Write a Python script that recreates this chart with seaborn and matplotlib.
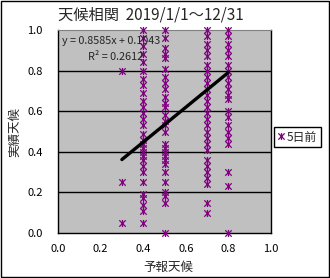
import numpy as np
import pandas as pd
import matplotlib
matplotlib.use("Agg")
import matplotlib.pyplot as plt
from matplotlib.path import Path
from matplotlib.patches import Rectangle
from matplotlib.lines import Line2D
import seaborn as sns

# ---------------------------------------------------------
# Data (forecast value -> observed values)
# ---------------------------------------------------------
y_at_03 = [0.80, 0.25, 0.05]
y_at_04 = [1.00, 0.96, 0.92, 0.88, 0.84, 0.80, 0.76, 0.73, 0.69, 0.65, 0.62,
           0.59, 0.56, 0.53, 0.49, 0.46, 0.44, 0.42, 0.40, 0.38, 0.36, 0.33,
           0.30, 0.25, 0.19, 0.17, 0.14, 0.11, 0.05]
y_at_05 = [1.00, 0.96, 0.91, 0.88, 0.86, 0.81, 0.77, 0.74, 0.71, 0.67, 0.64,
           0.62, 0.58, 0.55, 0.53, 0.50, 0.44, 0.42, 0.40, 0.38, 0.36, 0.34,
           0.30, 0.25, 0.20, 0.18, 0.15, 0.00]
y_at_07 = [1.00, 0.97, 0.93, 0.90, 0.87, 0.83, 0.80, 0.77, 0.74, 0.71, 0.68,
           0.65, 0.62, 0.59, 0.56, 0.53, 0.50, 0.47, 0.44, 0.41, 0.36, 0.33,
           0.30, 0.27, 0.24, 0.15, 0.10]
y_at_08 = [1.00, 0.97, 0.93, 0.90, 0.87, 0.83, 0.80, 0.77, 0.74, 0.71, 0.68,
           0.66, 0.60, 0.57, 0.53, 0.50, 0.47, 0.44, 0.30, 0.23, 0.00]

forecast_levels = [0.3, 0.4, 0.5, 0.7, 0.8]
observed = [y_at_03, y_at_04, y_at_05, y_at_07, y_at_08]

# trend line from the displayed equation
slope = 0.8585
intercept = 0.1043
r2 = 0.2612
trend_x = [0.3, 0.8]

ticks = [0.0, 0.2, 0.4, 0.6, 0.8, 1.0]

df = pd.DataFrame({
    "forecast": np.concatenate([[x] * len(v) for x, v in zip(forecast_levels, observed)]),
    "observed": np.concatenate(observed),
})
trend = pd.DataFrame({"x": trend_x, "y": [slope * x + intercept for x in trend_x]})

# ---------------------------------------------------------
# Style
# ---------------------------------------------------------
sns.set_style("white")
plt.rcParams["font.family"] = ["Noto Sans CJK JP", "DejaVu Sans"]

# Excel-like asterisk marker: X plus vertical bar
star = Path(
    [(-1, -1), (1, 1), (-1, 1), (1, -1), (0, -1.1), (0, 1.1)],
    [Path.MOVETO, Path.LINETO, Path.MOVETO, Path.LINETO, Path.MOVETO, Path.LINETO],
)
purple = "#800080"

fig = plt.figure(figsize=(3.3, 2.78), dpi=100)
ax = fig.add_axes([58 / 330, 45 / 278, 213 / 330, 203 / 278])
ax.set_facecolor("#c0c0c0")

for yv in ticks[1:-1]:
    ax.axhline(yv, color="black", linewidth=1.0, zorder=1)

sns.scatterplot(data=df, x="forecast", y="observed", marker=star, s=26,
                color=purple, edgecolor=purple, linewidth=0.9,
                ax=ax, zorder=3, clip_on=False, legend=False)
sns.lineplot(data=trend, x="x", y="y", color="black", linewidth=2.4, ax=ax,
             zorder=4, legend=False)

ax.set_xlim(0, 1)
ax.set_ylim(0, 1)
ax.set_xticks(ticks)
ax.set_yticks(ticks)
ax.set_xticklabels([f"{t:.1f}" for t in ticks])
ax.set_yticklabels([f"{t:.1f}" for t in ticks])
ax.tick_params(axis="both", direction="in", length=3, labelsize=8, colors="black")
ax.tick_params(axis="y", pad=11)
ax.tick_params(axis="x", pad=8)
ax.set_xlabel("")
ax.set_ylabel("")

for side in ["left", "bottom", "right"]:
    ax.spines[side].set_color("black")
    ax.spines[side].set_linewidth(1.0)
ax.spines["top"].set_color("#808080")

ax.text(0.02, 0.97, f"y = {slope}x + {intercept}", transform=ax.transAxes,
        fontsize=7.8, ha="left", va="top", zorder=5)
ax.text(0.14, 0.89, f"R² = {r2}", transform=ax.transAxes,
        fontsize=7.8, ha="left", va="top", zorder=5)

fig.text(151 / 330, 1 - 15 / 278, "天候相関  2019/1/1～12/31", fontsize=11,
         ha="center", va="center")
fig.text(168 / 330, 1 - 267 / 278, "予報天候", fontsize=9, ha="center", va="center")
fig.text(15 / 330, 1 - 132 / 278, "実績天候", fontsize=9, ha="center", va="center",
         rotation=90)

handle = Line2D([], [], linestyle="none", marker=star, markersize=5,
                markeredgecolor=purple, markeredgewidth=0.9, color=purple)
leg = fig.legend([handle], ["5日前"], loc="upper left",
                 bbox_to_anchor=(274 / 330, 1 - 127 / 278), borderaxespad=0,
                 fontsize=8.5, frameon=True, fancybox=False, edgecolor="black",
                 handlelength=0.6, handletextpad=0.2, borderpad=0.3, framealpha=1)
leg.get_frame().set_linewidth(1.0)

fig.patches.append(Rectangle((0.002, 0.002), 0.995, 0.995, transform=fig.transFigure,
                             fill=False, edgecolor="black", linewidth=1.0))

fig.savefig("out.png", dpi=100)
